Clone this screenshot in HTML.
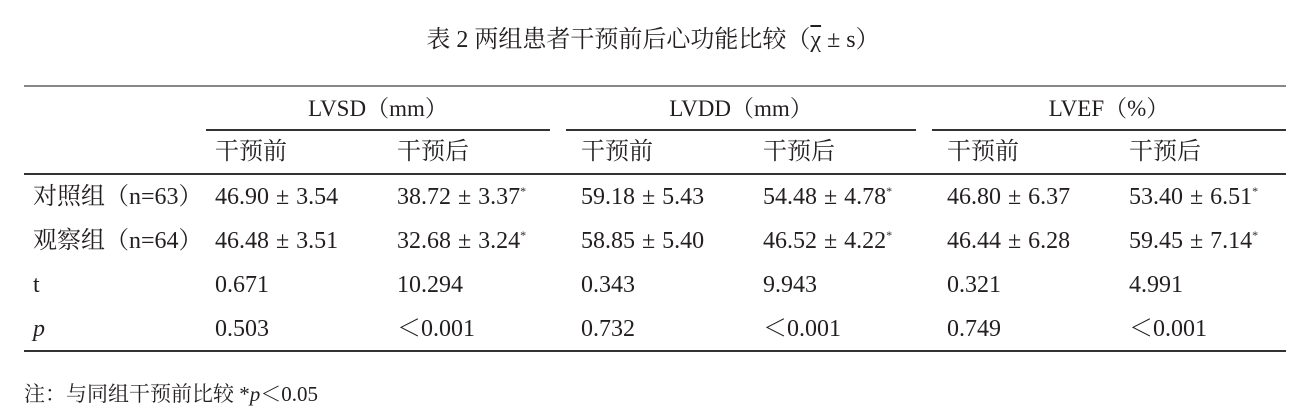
<!DOCTYPE html>
<html><head><meta charset="utf-8"><style>
body{margin:0;width:1306px;height:419px;background:#fff;position:relative;overflow:hidden;font-family:"Liberation Serif","Noto Serif CJK SC",serif;color:#231f20;font-size:23px}
.t{position:absolute;white-space:nowrap;line-height:1}
.l{position:absolute;height:1.5px;background:#333}
sup{font-size:12px;vertical-align:9px}
</style></head><body>
<div class="t" style="left:0;width:1306px;text-align:center;top:28px;font-size:24px">表 2 两组患者干预前后心功能比较（<span style="text-decoration:overline">χ</span> ± s）</div>
<div class="l" style="left:24px;width:1262px;top:85px;height:2px;background:#888"></div>
<div class="t" style="left:206px;width:344px;text-align:center;top:97px">LVSD（mm）</div>
<div class="t" style="left:566px;width:350px;text-align:center;top:97px">LVDD（mm）</div>
<div class="t" style="left:932px;width:354px;text-align:center;top:97px">LVEF（%）</div>
<div class="l" style="left:206px;width:344px;top:129px"></div>
<div class="l" style="left:566px;width:350px;top:129px"></div>
<div class="l" style="left:932px;width:354px;top:129px"></div>
<div class="l" style="left:24px;width:1262px;top:173px"></div>
<div class="l" style="left:24px;width:1262px;top:350px"></div>
<div id="cells"></div>
<div class="t" style="left:24px;top:384px;font-size:21px">注：与同组干预前比较 *<i>p</i>＜0.05</div>
<script>
const xs=[33,215,397,581,763,947,1129];
const subHeaders=["干预前","干预后","干预前","干预后","干预前","干预后"];
const rowLabels=["对照组（n=63）","观察组（n=64）","t","<i>p</i>"];
const rows=[
["46.90 ± 3.54","38.72 ± 3.37<sup>*</sup>","59.18 ± 5.43","54.48 ± 4.78<sup>*</sup>","46.80 ± 6.37","53.40 ± 6.51<sup>*</sup>"],
["46.48 ± 3.51","32.68 ± 3.24<sup>*</sup>","58.85 ± 5.40","46.52 ± 4.22<sup>*</sup>","46.44 ± 6.28","59.45 ± 7.14<sup>*</sup>"],
["0.671","10.294","0.343","9.943","0.321","4.991"],
["0.503","＜0.001","0.732","＜0.001","0.749","＜0.001"]];
const c=document.getElementById('cells');
function add(x,y,h,name,big){const d=document.createElement('div');d.className='t';d.style.left=x+'px';d.style.top=y+'px';d.innerHTML=h;
if(big){d.style.fontSize='24px';d.style.wordSpacing='1px';}


c.appendChild(d);}
subHeaders.forEach((s,i)=>add(xs[i+1],140,s,'subheader-'+(i+1),true));
rows.forEach((r,ri)=>{const y=185+ri*44;add(xs[0],y,rowLabels[ri],'row-label-'+(ri+1),true);
r.forEach((v,ci)=>add(xs[ci+1],y,v,'cell-r'+(ri+1)+'-c'+(ci+1),true));});
</script>
</body></html>
